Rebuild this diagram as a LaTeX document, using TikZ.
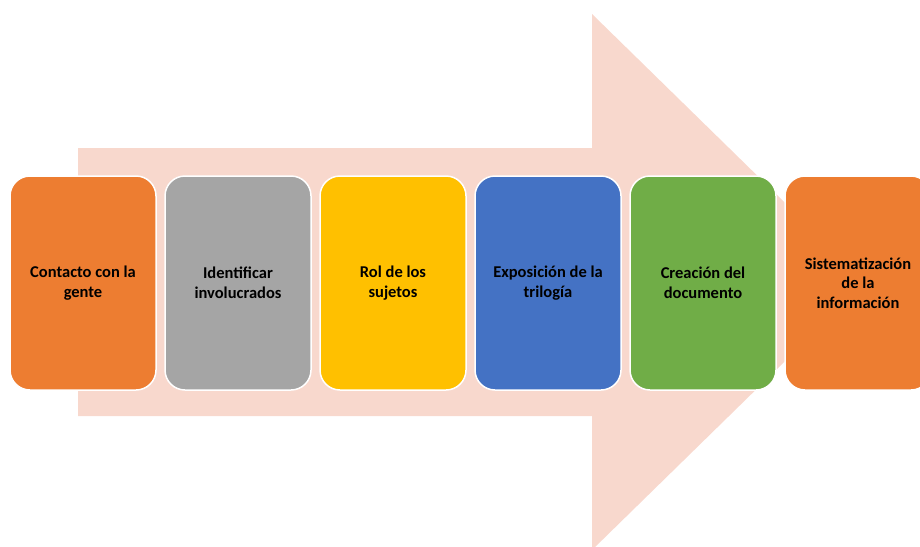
\documentclass[tikz,border=0pt]{standalone}
\usepackage{fontspec}
\setmainfont{Carlito}
\usetikzlibrary{positioning}

\definecolor{arrowpink}{HTML}{F8D8CD}
\definecolor{stepOrange}{HTML}{ED7D31}
\definecolor{stepGray}{HTML}{A5A5A5}
\definecolor{stepYellow}{HTML}{FFC000}
\definecolor{stepBlue}{HTML}{4472C4}
\definecolor{stepGreen}{HTML}{70AD47}

\tikzset{
    stepbox/.style={draw=white, line width=1.5pt, rounded corners=20pt,
        minimum width=146pt, minimum height=214pt, inner sep=4pt, outer sep=0pt,
        align=center, text=black,
        font=\fontsize{16.5pt}{19.5pt}\selectfont\bfseries}
}

\begin{document}
\begin{tikzpicture}[x=1pt, y=-1pt, node distance=9pt]
            \useasboundingbox (0,0) rectangle (920,546);

            % big arrow behind the steps
            \fill[arrowpink] (78,148) -- (592,148) -- (592,14) -- (866,282)
                -- (592,550) -- (592,416) -- (78,416) -- cycle;

            \node[stepbox, fill=stepOrange] (contacto) at (83,283) {Contacto con la\\gente};
            \node[stepbox, fill=stepGray, right=of contacto] (identificar) {Identificar\\involucrados};
            \node[stepbox, fill=stepYellow, right=of identificar] (rol) {Rol de los\\sujetos};
            \node[stepbox, fill=stepBlue, right=of rol] (exposicion) {Exposición de la\\trilogía};
            \node[stepbox, fill=stepGreen, right=of exposicion] (creacion) {Creación del\\documento};
            \node[stepbox, fill=stepOrange, right=of creacion] (sistema) {Sistematización\\de la\\información};
        \end{tikzpicture}
\end{document}
